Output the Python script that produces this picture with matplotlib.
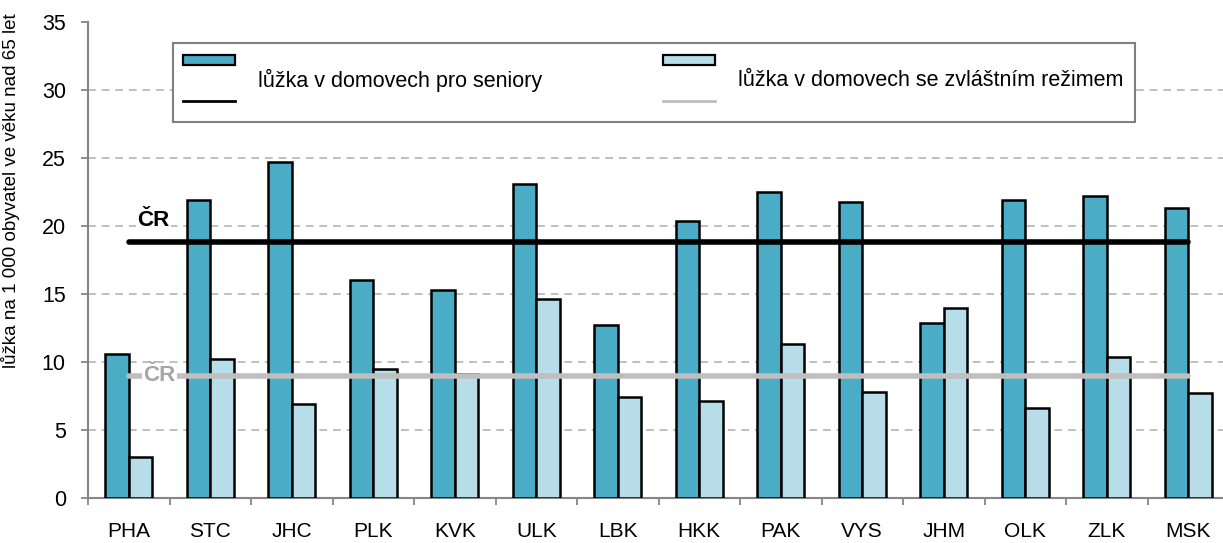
import numpy as np
import matplotlib as mpl
mpl.use('Agg')
import matplotlib.pyplot as plt
from matplotlib.patches import Rectangle
from matplotlib.lines import Line2D

plt.rcParams["font.family"] = ["Liberation Sans", "DejaVu Sans"]

# regions (kraje)
regions = ["PHA", "STC", "JHC", "PLK", "KVK", "ULK", "LBK",
           "HKK", "PAK", "VYS", "JHM", "OLK", "ZLK", "MSK"]
# beds per 1000 inhabitants aged 65+
seniors = [10.6, 21.9, 24.7, 16.0, 15.3, 23.1, 12.7,
           20.4, 22.5, 21.8, 12.9, 21.9, 22.2, 21.3]
special = [3.0, 10.2, 6.9, 9.5, 9.1, 14.6, 7.4,
           7.1, 11.3, 7.8, 14.0, 6.6, 10.4, 7.7]
# Czech Republic averages
cr_seniors = 18.85
cr_special = 9.0

lab_seniors = "lůžka v domovech pro seniory"
lab_special = "lůžka v domovech se zvláštním režimem"
ylabel = "lůžka na 1 000 obyvatel ve věku nad 65 let"

c_dark = "#4BACC6"
c_light = "#B7DEE8"
c_gray = "#BFBFBF"
c_axis = "#868686"

fig = plt.figure(figsize=(12.23, 5.43), dpi=100)
ax = fig.add_axes([88 / 1223, 45 / 543, 1141 / 1223, 476 / 543])

x = np.arange(len(regions))
w = 0.29
ax.bar(x - w / 2, seniors, w, color=c_dark, edgecolor="black", linewidth=1.8, zorder=3)
ax.bar(x + w / 2, special, w, color=c_light, edgecolor="black", linewidth=1.8, zorder=3)

# CR average lines
ax.plot([x[0], x[-1]], [cr_seniors, cr_seniors], color="black", lw=4,
        solid_capstyle="round", zorder=4)
ax.plot([x[0], x[-1]], [cr_special, cr_special], color=c_gray, lw=4,
        solid_capstyle="round", zorder=4)
ax.text(x[0] + 0.30, cr_seniors + 1.55, "ČR", ha="center", va="center",
        fontsize=16, fontweight="bold", color="black", zorder=5,
        bbox=dict(facecolor="white", edgecolor="none", pad=1))
ax.text(x[0] + 0.38, cr_special, "ČR", ha="center", va="center",
        fontsize=16, fontweight="bold", color="#A6A6A6", zorder=5,
        bbox=dict(facecolor="white", edgecolor="none", pad=1))

ax.set_xlim(-0.5, len(regions) - 0.5)
ax.set_ylim(0, 35)
ax.set_yticks(np.arange(0, 36, 5))
for yv in np.arange(5, 35, 5):
    ax.axhline(yv, color=c_gray, lw=1.4, ls=(0, (4, 3)), zorder=1)

ax.set_xticks(x)
ax.set_xticklabels(regions, fontsize=15)
ax.set_xticks(np.arange(-0.5, len(regions), 1), minor=True)
ax.tick_params(axis="x", which="major", length=0, pad=17)
ax.tick_params(axis="x", which="minor", length=5, width=1.3, color=c_axis)
ax.tick_params(axis="y", length=5, width=1.3, color=c_axis, labelsize=15.5, pad=11)

for s in ["top", "right"]:
    ax.spines[s].set_visible(False)
for s in ["left", "bottom"]:
    ax.spines[s].set_color(c_axis)
    ax.spines[s].set_linewidth(1.5)

ax.set_ylabel(ylabel, fontsize=13.5)
ax.yaxis.set_label_coords(-0.0596, 0.645)

# legend drawn by hand (patches on top row, lines below)
tr = ax.transAxes
ax.add_patch(Rectangle((0.0745, 0.790), 0.843, 0.166, transform=tr, facecolor="white",
                       edgecolor="#808080", lw=1.5, zorder=6, clip_on=False))
for x0, col, lcol, lab in [(0.0833, c_dark, "black", lab_seniors),
                           (0.5040, c_light, c_gray, lab_special)]:
    ax.add_patch(Rectangle((x0, 0.9097), 0.0455, 0.021, transform=tr, facecolor=col,
                           edgecolor="black", lw=1.6, zorder=7, clip_on=False))
    ax.add_line(Line2D([x0, x0 + 0.0455], [0.834, 0.834], transform=tr, color=lcol,
                       lw=2, zorder=7, clip_on=False))
    ax.text(x0 + 0.066, 0.878, lab, transform=tr, fontsize=15.5, va="center",
            ha="left", zorder=7)

fig.savefig("out.png", dpi=100)
